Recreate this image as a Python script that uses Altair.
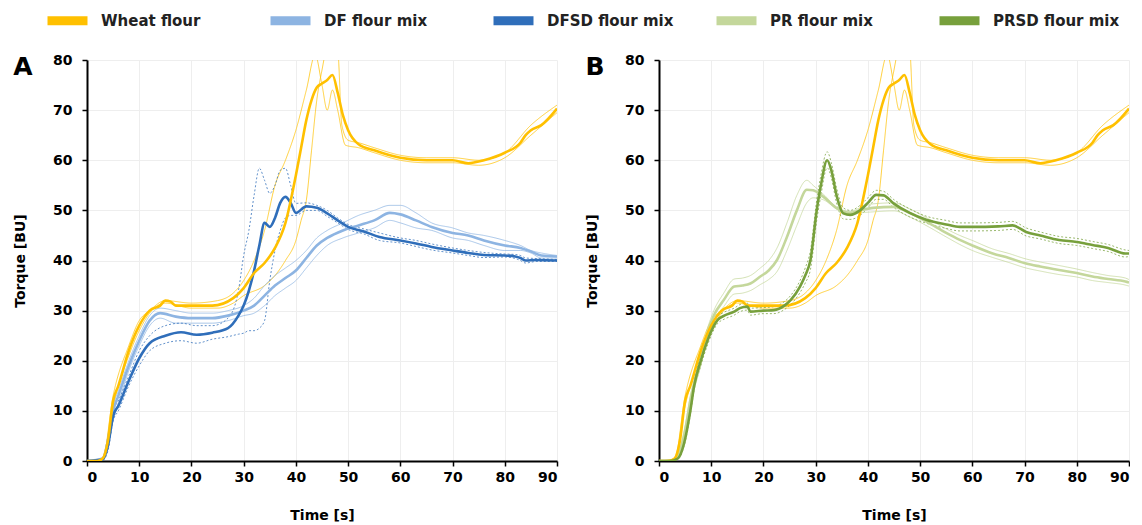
import altair as alt
import pandas as pd

SERIES = ["Wheat flour", "DF flour mix", "DFSD flour mix", "PR flour mix", "PRSD flour mix"]
COLORS = ["#FFC000", "#8DB4E2", "#2F6EBA", "#C4D79B", "#77A03C"]

# ---- Wheat flour (both panels)
WHEAT_T = [0, 2, 3, 4, 5, 6, 8, 10, 12, 14, 15, 16, 17, 20, 24, 28, 30, 32, 34, 36, 38, 40, 41, 42, 43, 44, 45, 46, 47, 48,
           49, 50, 52, 55, 60, 65, 70, 73, 76, 80, 83, 84, 85, 87, 90]
WHEAT_MEAN = [0, 0, 0.5, 4, 12, 15, 22, 27, 30, 31, 32, 31.8, 31, 31, 31, 32.5, 34.5, 37.5, 39.5, 42.5, 47.5, 57, 62.5, 68, 72,
              74.5, 75.3, 76, 77, 73.5, 69, 66, 63.2, 62, 60.5, 60, 60, 59.4, 60, 61.5, 63.5, 65, 66, 67, 70.3]
WHEAT_R1_T = [0, 3, 5, 8, 10, 12, 15, 20, 25, 28, 30, 32, 34, 36, 38, 40, 42, 43.7, 45, 46, 47, 48, 49.5, 52, 55, 60, 65, 70,
              75, 80, 85, 90]
WHEAT_R1 = [0, 0.5, 13, 23, 28, 30, 32, 31.5, 32, 33.5, 36, 40, 46, 55, 60, 66, 74, 81, 75, 70, 74, 70, 63, 62.5, 61.5, 60,
            59.5, 59.5, 59, 60.5, 65, 69.5]
WHEAT_R2_T = [0, 3, 5, 8, 10, 12, 15, 20, 25, 28, 30, 34, 36, 38, 40, 41, 42, 43, 44, 45, 45.6, 47, 48, 48.8, 50, 52, 55, 60,
              65, 70, 75, 80, 85, 90]
WHEAT_R2 = [0, 0.3, 11, 21, 26, 29.5, 31.5, 30.5, 30.5, 31.5, 33, 35, 37, 40, 44, 48, 52, 62, 72, 78, 81, 83, 82, 67, 64, 63.5,
            62.5, 61, 60.5, 60.5, 60, 61.5, 67, 71]

# ---- DF flour mix (panel A)
DF_T = [0, 3, 4, 5, 6, 8, 10, 12, 14, 17, 20, 24, 27, 30, 32, 34, 36, 38, 40, 42, 44, 46, 49, 52, 55, 58, 60, 63, 66, 70, 73,
        76, 80, 83, 85, 87, 90]
DF_MEAN = [0, 0.5, 4, 10, 13, 19, 24, 28, 29.5, 28.8, 28.5, 28.5, 29, 30, 31, 33, 35, 36.5, 38, 40.5, 43, 44.5, 46, 47, 48,
           49.5, 49.2, 48, 46.7, 45.5, 45, 44, 43, 42.5, 41.8, 41, 40.8]
DF_R1 = [0, 0.6, 5, 11, 14, 20, 25, 29, 30.5, 30, 29.5, 29.5, 30, 31, 32.5, 35, 37, 38.5, 40, 42, 44.5, 46, 47.5, 49, 50, 51,
         51, 49.5, 47.5, 46.5, 45.5, 45, 44, 43, 42, 41.5, 41]
DF_R2 = [0, 0.4, 3, 8, 11.5, 18, 23, 27, 28.5, 27.5, 27.5, 27.5, 28, 29, 29.5, 31, 33, 34.5, 36, 38.5, 41, 43, 44.5, 45.5,
         46.5, 48, 47.5, 46.5, 46, 44.5, 44, 43, 42, 42, 41.5, 40.5, 40.5]

# ---- DFSD flour mix (panel A)
DS_T = [0, 3, 4, 5, 6, 8, 10, 12, 15, 18, 21, 24, 27, 29, 30, 31, 32, 33, 34, 35, 36, 37, 38, 39, 40, 42, 44, 46, 48, 50, 53,
        56, 60, 63, 66, 70, 73, 76, 80, 82, 83, 84, 86, 90]
DS_MEAN = [0, 0.3, 3, 9, 11, 16, 20.5, 23.5, 25, 25.7, 25.2, 25.6, 26.5, 29, 31, 34, 38, 43, 47.5, 46.7, 48.5, 51.5, 52.7,
           51.5, 49.5, 50.8, 50.5, 49.4, 48, 46.7, 45.8, 44.7, 44, 43.4, 42.7, 42, 41.5, 41.1, 41, 40.8, 40.5, 40, 40.1, 40]
DS_R1 = [0, 0.4, 4, 10, 12, 17, 22, 25, 27, 27.5, 27, 27, 28.5, 34, 41, 46, 53, 58.4, 56, 53.4, 55, 58, 58.4, 55, 51.4, 51.5,
         51, 50, 48.5, 47.2, 46.3, 45.5, 44.5, 44, 43.3, 42.5, 42, 41.6, 41.3, 41.2, 41, 40.5, 40.4, 40.2]
DS_R2 = [0, 0.2, 2, 8, 10, 15, 19, 22, 23.5, 24, 23.5, 24.3, 24.8, 25.3, 25.5, 26, 26, 26.5, 28, 36, 42, 46, 48.5, 49, 49, 50,
         50, 48.8, 47.5, 46.2, 45.3, 44, 43.5, 42.8, 42.1, 41.5, 41, 40.6, 40.7, 40.4, 40, 39.5, 39.8, 39.8]

# ---- PR flour mix (panel B)
PR_T = [0, 2, 3, 4, 5, 6, 8, 9.3, 10.5, 12.4, 14.4, 16, 17.5, 19.4, 21, 22.6, 24.5, 26.4, 28.3, 29.5, 31.5, 34.1, 36.6, 38.5,
        41, 45, 48, 51.3, 55, 57.6, 60, 63.9, 67, 70.3, 73, 76.6, 80, 83, 86, 89.3, 90]
PR_MEAN = [0, 0, 0.3, 2, 6, 12, 20, 25.5, 29, 32.1, 34.8, 35, 35.4, 36.8, 38, 40.1, 44.7, 50, 54.1, 54, 52.7, 50.4, 49.5, 50,
           50.5, 50.7, 49.5, 47.7, 45.5, 44.1, 43, 41.4, 40.5, 39.4, 38.8, 38.1, 37.5, 36.8, 36.3, 35.8, 35.6]
PR_R1 = [0, 0, 0.4, 2.5, 7, 13, 21, 26.5, 30, 33.5, 36.3, 36.5, 37, 38.5, 40, 42.5, 47.5, 53, 56, 55, 53.2, 50.6, 49.8, 50.5,
         51.3, 51.5, 50.3, 48.5, 46.3, 45, 44, 42.3, 41.4, 40.3, 39.7, 39, 38.3, 37.6, 37, 36.5, 36.2]
PR_R2 = [0, 0, 0.2, 1.5, 5, 11, 19, 24.5, 28, 30.8, 33.3, 33.5, 34, 35.2, 36.2, 37.8, 42, 47, 51.5, 52.5, 52.1, 50.2, 49.2,
         49.5, 49.7, 49.9, 48.7, 46.9, 44.7, 43.2, 42, 40.6, 39.6, 38.5, 37.9, 37.2, 36.7, 36, 35.6, 35.1, 34.9]

# ---- PRSD flour mix (panel B)
PS_T = [0, 2, 3.6, 4.8, 6, 6.7, 8, 9.3, 11.2, 12.5, 14.4, 15.5, 16.9, 17.5, 20, 22, 24, 25.2, 27, 28, 29, 30.2, 31, 32.2, 33,
        34, 35.3, 36.6, 38.5, 40, 41.6, 43, 44.9, 48, 51.3, 55, 57.6, 60, 65, 67.7, 70.3, 73, 76.6, 80, 83, 86, 89.3, 90]
PS_MEAN = [0, 0, 0.5, 3.5, 10, 14.8, 20, 24.1, 28.1, 29, 29.8, 30.5, 30.8, 29.8, 30, 30.1, 31, 32.1, 34.8, 37, 40.1, 50, 55,
           60, 58, 53, 49.4, 49.1, 50, 51.5, 53.1, 53, 51.4, 49.5, 48.1, 47.2, 46.7, 46.7, 46.8, 47, 45.7, 45, 44.1, 43.7,
           43.1, 42.5, 41.4, 41.4]
PS_R1 = [0, 0, 0.6, 4, 10.8, 15.6, 21, 25, 28.8, 29.7, 30.5, 31.2, 31.5, 30.5, 30.6, 30.8, 31.8, 33, 36, 38.5, 42, 52, 57,
         61.7, 59.5, 54.5, 50.5, 50, 51, 52.5, 54, 53.8, 52.2, 50.3, 48.8, 48, 47.5, 47.5, 47.6, 47.8, 46.5, 45.7, 44.8, 44.4,
         43.8, 43.2, 42.1, 42]
PS_R2 = [0, 0, 0.4, 3, 9.2, 14, 19, 23.2, 27.4, 28.3, 29.1, 29.8, 30.1, 29.1, 29.4, 29.4, 30.2, 31.2, 33.6, 35.5, 38.2, 48, 53,
         58.5, 56.5, 51.5, 48.3, 48.2, 49, 50.5, 52.2, 52.2, 50.6, 48.7, 47.4, 46.4, 45.9, 45.9, 46, 46.2, 44.9, 44.3, 43.4, 43,
         42.4, 41.8, 40.7, 40.8]

rows = []


def add(panel, series, trace, kind, dash, ts, vs):
    assert len(ts) == len(vs), (series, trace, len(ts), len(vs))
    for i, (t, v) in enumerate(zip(ts, vs)):
        rows.append(dict(panel=panel, series=series, trace=series + "|" + trace, kind=kind, dash=dash, i=i, t=t, v=v))


# draw order: replicates first, then means
for panel in ["A", "B"]:
    add(panel, "Wheat flour", "r1", "rep", "solid", WHEAT_R1_T, WHEAT_R1)
    add(panel, "Wheat flour", "r2", "rep", "solid", WHEAT_R2_T, WHEAT_R2)
add("A", "DF flour mix", "r1", "rep", "solid", DF_T, DF_R1)
add("A", "DF flour mix", "r2", "rep", "solid", DF_T, DF_R2)
add("A", "DFSD flour mix", "r1", "rep", "dot", DS_T, DS_R1)
add("A", "DFSD flour mix", "r2", "rep", "dot", DS_T, DS_R2)
add("B", "PR flour mix", "r1", "rep", "solid", PR_T, PR_R1)
add("B", "PR flour mix", "r2", "rep", "solid", PR_T, PR_R2)
add("B", "PRSD flour mix", "r1", "rep", "dot", PS_T, PS_R1)
add("B", "PRSD flour mix", "r2", "rep", "dot", PS_T, PS_R2)

add("A", "DF flour mix", "m", "mean", "solid", DF_T, DF_MEAN)
add("A", "DFSD flour mix", "m", "mean", "solid", DS_T, DS_MEAN)
add("A", "Wheat flour", "m", "mean", "solid", WHEAT_T, WHEAT_MEAN)
add("B", "PR flour mix", "m", "mean", "solid", PR_T, PR_MEAN)
add("B", "Wheat flour", "m", "mean", "solid", WHEAT_T, WHEAT_MEAN)
add("B", "PRSD flour mix", "m", "mean", "solid", PS_T, PS_MEAN)

df = pd.DataFrame(rows)

FONT = "DejaVu Sans"
cscale = alt.Scale(domain=SERIES, range=COLORS)


def make_legend():
    return alt.Legend(
        title=None, orient="none", legendX=-44, legendY=-64, direction="horizontal", columns=5,
        gridAlign="all", columnPadding=24, symbolType="stroke", symbolSize=1600, symbolStrokeWidth=9,
        symbolOpacity=1, symbolDash=[1, 0], labelFont=FONT, labelFontSize=15, labelFontWeight="bold",
        labelColor="#222222", labelOffset=9, labelLimit=300, padding=0,
    )


def panel(p):
    d = df[df["panel"] == p]
    base = alt.Chart(d)
    x = alt.X("t:Q", scale=alt.Scale(domain=[0, 90], nice=False, zero=False),
              axis=alt.Axis(values=list(range(0, 91, 10)), title="Time [s]"))
    y = alt.Y("v:Q", scale=alt.Scale(domain=[0, 80], nice=False),
              axis=alt.Axis(values=list(range(0, 81, 10)), title="Torque [BU]"))
    reps = base.transform_filter("datum.kind == 'rep'").mark_line(clip=True, interpolate="monotone").encode(
        x=x, y=y,
        color=alt.Color("series:N", scale=cscale, legend=make_legend()),
        detail="trace:N",
        strokeDash=alt.StrokeDash("dash:N", scale=alt.Scale(domain=["solid", "dot"], range=[[1, 0], [2, 2]]),
                                  legend=None),
        strokeWidth=alt.value(1),
        opacity=alt.value(0.75),
        order="i:Q",
    )
    means = base.transform_filter("datum.kind == 'mean'").mark_line(clip=True, interpolate="monotone").encode(
        x=x, y=y,
        color=alt.Color("series:N", scale=cscale, legend=make_legend()),
        detail="trace:N",
        strokeWidth=alt.value(2.6),
        order="i:Q",
    )
    lab = alt.Chart(pd.DataFrame({"label": [p]})).mark_text(
        font=FONT, fontSize=25, fontWeight="bold", align="center", baseline="alphabetic", color="black"
    ).encode(text="label:N", x=alt.value(-64), y=alt.value(15))
    return alt.layer(reps, means, lab).properties(width=470, height=401)


chart = alt.hconcat(panel("A"), panel("B"), spacing=27).properties(
    padding={"left": 5, "top": -12, "right": 0, "bottom": 0},
).configure_view(stroke=None).configure_axis(
    labelFont=FONT, labelFontSize=14, labelFontWeight="bold", labelColor="black",
    titleFont=FONT, titleFontSize=14, titleFontWeight="bold", titleColor="black",
    domainColor="black", domainWidth=2, tickColor="black", tickWidth=1.5, tickSize=5,
    gridColor="#EEEEEE", gridWidth=1,
).configure_axisY(labelPadding=10, titlePadding=25).configure_axisX(labelPadding=4, titlePadding=24)

chart.save("out.html", embed_options={"renderer": "svg", "actions": False})
